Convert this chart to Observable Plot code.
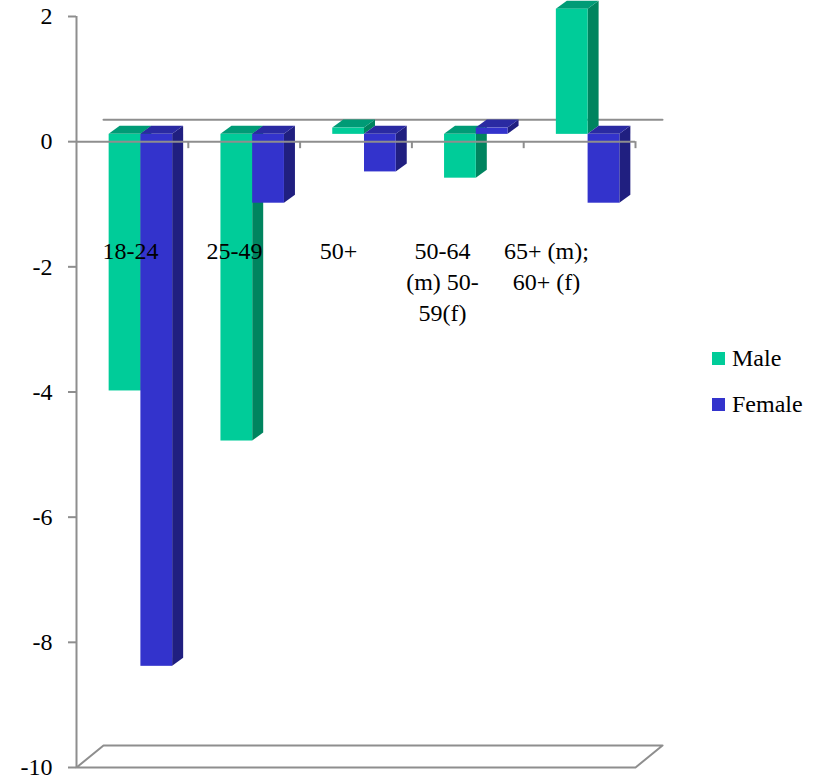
<!DOCTYPE html>
<html>
<head>
<meta charset="utf-8">
<script src="https://cdn.jsdelivr.net/npm/d3@7"></script>
<script src="https://cdn.jsdelivr.net/npm/@observablehq/plot@0.6"></script>
<style>
  html, body { margin: 0; padding: 0; background: #fff; }
  #wrap { position: relative; width: 825px; height: 781px; font-family: 'Liberation Serif', 'Times New Roman', 'DejaVu Serif', serif; }
  #legend { position: absolute; left: 712px; top: 335px; font-size: 24px; color: #000; font-family: 'Liberation Serif', 'Times New Roman', serif; }
  .item { display: flex; align-items: center; height: 46px; }
  .sw { width: 13px; height: 13px; margin-right: 7px; }
  svg text { font-family: 'Liberation Serif', 'Times New Roman', serif; }
</style>
</head>
<body>
<div id="wrap"><div id="legend"></div></div>
<script>
// ---- data ----
const categories = ["18-24", "25-49", "50+", "50-64 (m) 50-59(f)", "65+ (m); 60+ (f)"];
const categoryLabels = ["18-24", "25-49", "50+", "50-64\n(m) 50-\n59(f)", "65+ (m);\n60+ (f)"];
const maleValues = [-4.1, -4.9, 0.1, -0.7, 2.0];
const femaleValues = [-8.5, -1.1, -0.6, 0.1, -1.1];
const seriesNames = ["Male", "Female"];
const yTicks = [-10, -8, -6, -4, -2, 0, 2];

// ---- styling / layout ----
const W = 825, H = 781;
const mLeft = 76, mRight = 190, mTop = 16, mBottom = 14;
const yDomain = [-10, 2];
const xDomain = [0, categories.length];
const pxX = (W - mLeft - mRight) / (xDomain[1] - xDomain[0]);
const pxY = (H - mTop - mBottom) / (yDomain[1] - yDomain[0]);
const gray = "#8e8e8e";
const serif = "'Liberation Serif', 'Times New Roman', serif";
const colors = {
  Male: {front: "#00cc99", top: "#009b76", side: "#00845f"},
  Female: {front: "#3333cc", top: "#2a2aa2", side: "#201f80"}
};
const barW = 31.75 / pxX;          // bar width in x units
const shiftDx = 8.5, shiftDy = -7.3; // bars sit inside the 3D floor
const sideDxU = 11 / pxX, sideDyU = 8 / pxY; // bar depth
const floorDxU = 27 / pxX, floorDyU = 22 / pxY; // floor depth

const seriesValues = {Male: maleValues, Female: femaleValues};

function barsFor(name, k) {
  return categories.map((c, i) => {
    const x1 = i + 0.5 - barW + k * barW;
    return {key: name + i, cat: c, value: seriesValues[name][i], x1, x2: x1 + barW};
  });
}

function barMarks(name, k) {
  const bars = barsFor(name, k);
  const side = bars.flatMap(b => [
    {key: b.key, x: b.x2, y1: 0, y2: b.value},
    {key: b.key, x: b.x2 + sideDxU, y1: sideDyU, y2: b.value + sideDyU}
  ]);
  const top = bars.flatMap(b => {
    const t = Math.max(0, b.value);
    return [
      {key: b.key, y: t, x1: b.x1, x2: b.x2},
      {key: b.key, y: t + sideDyU, x1: b.x1 + sideDxU, x2: b.x2 + sideDxU}
    ];
  });
  const c = colors[name];
  return [
    Plot.areaY(side, {x: "x", y1: "y1", y2: "y2", z: "key", fill: c.side, curve: "linear", dx: shiftDx, dy: shiftDy}),
    Plot.areaX(top, {y: "y", x1: "x1", x2: "x2", z: "key", fill: c.top, curve: "linear", dx: shiftDx, dy: shiftDy}),
    Plot.rect(bars, {x1: "x1", x2: "x2", y1: () => 0, y2: "value", fill: c.front, dx: shiftDx, dy: shiftDy})
  ];
}

const backLine = [
  {x: xDomain[0] + floorDxU, y: floorDyU},
  {x: xDomain[1] + floorDxU, y: floorDyU}
];
const yMin = yDomain[0];
const floorPts = [
  {x: xDomain[0], y: yMin},
  {x: xDomain[1], y: yMin},
  {x: xDomain[1] + floorDxU, y: yMin + floorDyU},
  {x: xDomain[0] + floorDxU, y: yMin + floorDyU},
  {x: xDomain[0], y: yMin}
];
const bandEdges = d3.range(1, categories.length + 1);
const labelStart = (130 - mLeft) / pxX, labelStep = 104 / pxX;
const labels = categoryLabels.map((t, i) => ({text: t, x: labelStart + i * labelStep}));

const chart = Plot.plot({
  width: W,
  height: H,
  marginLeft: mLeft,
  marginRight: mRight,
  marginTop: mTop,
  marginBottom: mBottom,
  x: {type: "linear", domain: xDomain, axis: null},
  y: {domain: yDomain, axis: null},
  style: {fontFamily: serif, fontSize: "24px", color: "#000", background: "#fff", overflow: "visible"},
  marks: [
    Plot.line(backLine, {x: "x", y: "y", stroke: gray, strokeWidth: 2}),
    ...barMarks("Male", 0),
    ...barMarks("Female", 1),
    Plot.ruleY([0], {stroke: gray, strokeWidth: 2}),
    Plot.ruleX(bandEdges, {y1: 0, y2: -7 / pxY, stroke: gray, strokeWidth: 2}),
    Plot.ruleX([0], {stroke: gray, strokeWidth: 2}),
    Plot.axisY(yTicks, {tickSize: 8, tickPadding: 16, tickFormat: d => String(d), stroke: gray, strokeWidth: 2, fill: "#000", fontSize: 24, fontFamily: serif}),
    Plot.line(floorPts, {x: "x", y: "y", stroke: gray, strokeWidth: 2}),
    Plot.text(labels, {x: "x", y: () => 0, text: "text", dy: 95, lineAnchor: "top", lineHeight: 1.3, fill: "#000", fontSize: 24, fontFamily: serif})
  ]
});
document.getElementById("wrap").prepend(chart);

const legend = document.getElementById("legend");
seriesNames.forEach(n => {
  const item = document.createElement("div");
  item.className = "item";
  const sw = document.createElement("div");
  sw.className = "sw";
  sw.style.background = colors[n].front;
  const t = document.createElement("span");
  t.textContent = n;
  item.append(sw, t);
  legend.append(item);
});
</script>
</body>
</html>
